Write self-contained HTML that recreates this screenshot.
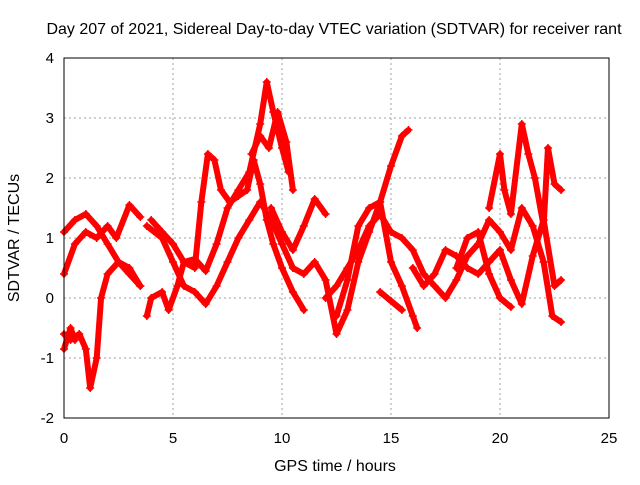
<!DOCTYPE html>
<html><head><meta charset="utf-8"><style>
body{margin:0;background:#fff;font-family:"Liberation Sans",sans-serif}
svg text{font-family:"Liberation Sans",sans-serif;font-size:15px;fill:#000}
</style></head><body>
<svg width="640" height="480" xmlns="http://www.w3.org/2000/svg">
<text x="334" y="34" text-anchor="middle" style="font-size:16px">Day 207 of 2021, Sidereal Day-to-day VTEC variation (SDTVAR) for receiver rant</text>
<g id="grid"></g>
<g id="series"></g>
<rect x="64" y="58" width="545" height="360" fill="none" stroke="#000" stroke-width="1"/>
<g id="ticks"></g>
<text x="335" y="471" text-anchor="middle" style="font-size:16px">GPS time / hours</text>
<text transform="translate(19,238) rotate(-90)" text-anchor="middle" style="font-size:16px">SDTVAR / TECUs</text>
</svg>
<script>
const xTicks=[0,5,10,15,20,25];
const yTicks=[-2,-1,0,1,2,3,4];
const traceA=[[0,1.1],[0.5,1.3],[1,1.4],[1.5,1.2],[2,0.9],[2.5,0.6],[3,0.4],[3.5,0.2]];
const traceB=[[0,0.4],[0.5,0.9],[1,1.1],[1.5,1.0],[2,1.2],[2.4,1.0],[3,1.55],[3.5,1.35]];
const traceC=[[0,-0.6],[0.3,-0.7],[0.7,-0.6],[1,-0.85],[1.2,-1.5],[1.5,-1.0],[1.7,0.0],[2,0.4],[2.5,0.6],[3,0.5],[3.5,0.2]];
const traceD=[[0,-0.85],[0.3,-0.5],[0.5,-0.7]];
const traceE=[[3.8,-0.3],[4,0.0],[4.5,0.1],[4.8,-0.2],[5.2,0.2],[5.5,0.6],[6,0.65],[6.5,0.45],[7,0.9],[7.5,1.5],[8,1.8],[8.5,2.1],[9,2.9],[9.3,3.6],[9.6,3.1],[10,2.5],[10.3,2.1]];
const traceF=[[3.8,1.2],[4.5,1.0],[5,0.6],[5.5,0.2],[6,0.1],[6.5,-0.1],[7,0.2],[7.5,0.6],[8,1.0],[8.5,1.3],[9,1.6],[9.5,1.3],[10,0.9],[10.5,0.5],[11,0.4],[11.5,0.6],[12,0.3],[12.5,-0.6],[13,-0.2],[13.5,0.6],[14,1.1],[14.5,1.6],[15,2.2],[15.5,2.7],[15.8,2.8]];
const traceG=[[4,1.3],[4.5,1.1],[5,0.9],[5.5,0.6],[6,0.5],[6.3,1.6],[6.6,2.4],[6.9,2.3],[7.2,1.8],[7.6,1.6],[8,1.7],[8.4,1.8],[8.7,2.3],[9,1.9],[9.3,1.3],[9.6,0.9],[10,0.5],[10.5,0.1],[11,-0.2]];
const traceH=[[8.6,2.4],[9,2.7],[9.4,2.5],[9.8,3.1],[10.2,2.6],[10.5,1.8]];
const traceI=[[9.5,1.5],[10,1.1],[10.5,0.8],[11,1.2],[11.5,1.65],[12,1.4]];
const traceJ=[[12,0.0],[12.5,0.2],[13,0.5],[13.5,0.8],[14,1.2],[14.5,1.4],[15,1.1],[15.5,1.0],[16,0.8],[16.5,0.4],[17,0.2],[17.5,0.0],[18,0.3],[18.5,0.7],[19,0.9],[19.5,1.3],[20,1.1],[20.5,0.8],[21,1.5],[21.5,1.2],[22,0.6],[22.4,-0.3],[22.8,-0.4]];
const traceK=[[12.5,-0.3],[13,0.3],[13.5,1.2],[14,1.5],[14.5,1.6],[15,0.6],[15.5,0.2],[16,-0.3],[16.2,-0.5]];
const traceL=[[14.5,0.1],[15,-0.05],[15.5,-0.2]];
const traceM=[[16,0.5],[16.5,0.2],[17,0.4],[17.5,0.8],[18,0.7],[18.5,0.5],[19,0.4],[19.5,0.6],[20,0.8],[20.5,0.3],[21,-0.1],[21.5,0.7],[22,1.3],[22.5,0.2],[22.8,0.3]];
const traceN=[[19.5,1.5],[20,2.4],[20.2,1.8],[20.5,1.4],[21,2.9],[21.3,2.4],[21.6,2.0],[22,1.2],[22.2,2.5],[22.5,1.9],[22.8,1.8]];
const traceO=[[18,0.5],[18.5,1.0],[19,1.1],[19.5,0.4],[20,0.0],[20.5,-0.15]];
const traces=[traceA,traceB,traceC,traceD,traceE,traceF,traceG,traceH,traceI,traceJ,traceK,traceL,traceM,traceN,traceO];
const NS="http://www.w3.org/2000/svg";
const X=v=>64+v*(545/25), Y=v=>418-(v+2)*60;
const grid=document.getElementById('grid'), ticks=document.getElementById('ticks'), ser=document.getElementById('series');
function mk(t,a,p){const e=document.createElementNS(NS,t);for(const k in a)e.setAttribute(k,a[k]);p.appendChild(e);return e;}
xTicks.forEach(v=>{
 if(v>0&&v<25){const l=mk('line',{x1:X(v),x2:X(v),y1:58,y2:418,stroke:'#a0a0a0','stroke-dasharray':'2,3'},grid);
 
 }
 const t=mk('text',{x:X(v),y:443,'text-anchor':'middle'},ticks);t.textContent=v;
 
 
});
yTicks.forEach(v=>{
 if(v>-2&&v<4){const l=mk('line',{x1:64,x2:609,y1:Y(v),y2:Y(v),stroke:'#a0a0a0','stroke-dasharray':'2,3'},grid);
 
 }
 const t=mk('text',{x:54,y:Y(v)+5,'text-anchor':'end'},ticks);t.textContent=v;
 
 
});
traces.forEach(tr=>{
 const pl=mk('polyline',{points:tr.map(p=>X(p[0])+','+Y(p[1])).join(' '),fill:'none',stroke:'#ff0000','stroke-width':6,'stroke-linejoin':'round','stroke-linecap':'round'},ser);
 
 
 tr.forEach(p=>{const x=X(p[0]),y=Y(p[1]);
  const m=mk('path',{d:`M${x-4},${y}H${x+4}M${x},${y-4}V${y+4}`,stroke:'#ff0000','stroke-width':1.5},ser);
  
  });
});
</script>
</body></html>
